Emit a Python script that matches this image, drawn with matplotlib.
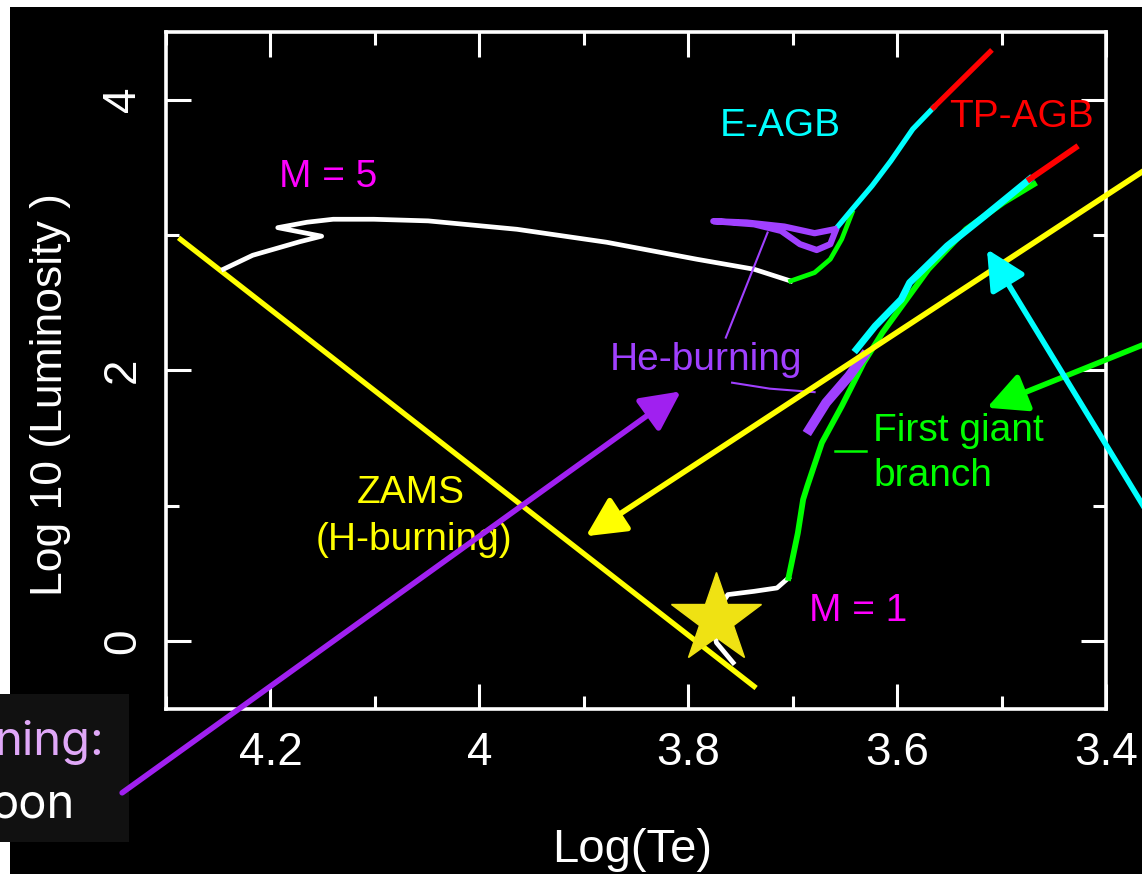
import matplotlib
matplotlib.use("Agg")
import matplotlib.pyplot as plt
from matplotlib.patches import Rectangle
from matplotlib.ticker import MultipleLocator

# -----------------------------
# daten
# -----------------------------
zams_x = [4.288, 3.735]
zams_y = [2.980, -0.345]

# M = 5 Spur
m5_ms_x = [4.245, 4.217, 4.172, 4.151, 4.193, 4.165, 4.140, 4.101, 4.049, 3.964, 3.878, 3.792, 3.737, 3.702]
m5_ms_y = [2.748, 2.851, 2.951, 2.992, 3.055, 3.095, 3.117, 3.117, 3.105, 3.043, 2.947, 2.822, 2.748, 2.661]
m5_rgb_x = [3.702, 3.679, 3.664, 3.653, 3.643]
m5_rgb_y = [2.661, 2.723, 2.822, 2.970, 3.167]
m5_heb_x = [3.660, 3.679, 3.708, 3.744, 3.776, 3.737, 3.711, 3.693, 3.677, 3.664, 3.659]
m5_heb_y = [3.043, 3.014, 3.063, 3.093, 3.103, 3.080, 3.031, 2.933, 2.890, 2.933, 3.031]
m5_eagb_x = [3.659, 3.643, 3.624, 3.606, 3.585, 3.565]
m5_eagb_y = [3.043, 3.191, 3.364, 3.548, 3.783, 3.943]
m5_tp_x = [3.565, 3.511]
m5_tp_y = [3.943, 4.354]

# M = 1 Spur
m1_ms_x = [3.757, 3.773, 3.776, 3.770, 3.762, 3.737, 3.715, 3.704]
m1_ms_y = [-0.158, -0.010, 0.100, 0.250, 0.345, 0.369, 0.394, 0.468]
m1_rgb_x = [3.704, 3.699, 3.695, 3.690, 3.686, 3.672, 3.653, 3.632, 3.614, 3.570, 3.534, 3.498, 3.469]
m1_rgb_y = [0.468, 0.653, 0.801, 1.047, 1.146, 1.467, 1.737, 2.058, 2.280, 2.748, 3.043, 3.241, 3.376]
m1_heb_x = [3.684, 3.668, 3.646, 3.632]
m1_heb_y = [1.565, 1.762, 1.959, 2.107]
m1_eagb_x = [3.639, 3.621, 3.596, 3.588, 3.552, 3.516, 3.473]
m1_eagb_y = [2.156, 2.328, 2.526, 2.649, 2.920, 3.142, 3.413]
m1_tp_x = [3.473, 3.429]
m1_tp_y = [3.413, 3.647]

# Sonne
sun_x, sun_y = 3.773, 0.164

# Hinweislinien (He-burning, First giant)
heb_line1_x = [3.724, 3.764]
heb_line1_y = [3.019, 2.243]
heb_line2_x = [3.758, 3.722, 3.679]
heb_line2_y = [1.910, 1.866, 1.840]
fgb_dash_x = [3.659, 3.630]
fgb_dash_y = [1.404, 1.404]

# Pfeile: (Spitze, Ende, Farbe)
arrows = [
    ((3.807, 1.846), (4.342, -1.119), "#A020F0"),
    ((3.898, 0.776), (3.358, 3.505), "#FFFF00"),
    ((3.514, 1.725), (3.358, 2.210), "#00FF00"),
    ((3.514, 2.896), (3.358, 0.920), "#00FFFF"),
]

# Beschriftungen: (text, x, y, farbe, ausrichtung) - y = Grundlinie
labels = [
    ("M = 5", 4.145, 3.354, "#FF00FF", "center"),
    ("M = 1", 3.637, 0.147, "#FF00FF", "center"),
    ("E-AGB", 3.712, 3.733, "#00FFFF", "center"),
    ("TP-AGB", 3.481, 3.795, "#FF0000", "center"),
    ("He-burning", 3.7825, 2.000, "#A040FF", "center"),
    ("First giant", 3.623, 1.478, "#00FF00", "left"),
    ("branch", 3.623, 1.145, "#00FF00", "left"),
    ("ZAMS", 4.066, 1.018, "#FFFF00", "center"),
    ("(H-burning)", 4.063, 0.677, "#FFFF00", "center"),
]

FONT = ["Liberation Sans Narrow", "Liberation Sans", "DejaVu Sans"]
plt.rcParams["font.family"] = FONT

W, H = 1142, 874
fig = plt.figure(figsize=(W / 100, H / 100), dpi=100, facecolor="white")
# schwarzer Hintergrund (weisser Rand oben/links)
fig.patches.append(Rectangle((10 / W, 0), 1, 1 - 7 / H, transform=fig.transFigure,
                             facecolor="black", edgecolor="none", zorder=-10))
# abgeschnittene Folienbox unten links
fig.patches.append(Rectangle((0, 1 - 842 / H), 129 / W, (842 - 694) / H, transform=fig.transFigure,
                             facecolor="#111111", edgecolor="none", zorder=-5))

ax = fig.add_axes([166 / W, 1 - 709 / H, (1106 - 166) / W, (709 - 32) / H])
ax.set_facecolor("black")
ax.set_xlim(4.3, 3.4)
ax.set_ylim(-0.5, 4.5)

for s in ax.spines.values():
    s.set_color("white")
    s.set_linewidth(2.6)

ax.xaxis.set_major_locator(MultipleLocator(0.2))
ax.xaxis.set_minor_locator(MultipleLocator(0.1))
ax.yaxis.set_major_locator(MultipleLocator(2))
ax.yaxis.set_minor_locator(MultipleLocator(1))
ax.tick_params(which="both", direction="in", top=True, right=True, colors="white", width=2.2)
ax.tick_params(which="major", length=18)
ax.tick_params(which="minor", length=9.5)
ax.tick_params(axis="x", labelsize=33, pad=16)
ax.tick_params(axis="y", labelsize=33, pad=15)
ax.set_xticks([4.2, 4.0, 3.8, 3.6, 3.4])
ax.set_xticklabels(["4.2", "4", "3.8", "3.6", "3.4"])
for lab in ax.get_yticklabels():
    lab.set_rotation(90)
    lab.set_va("center")

ax.set_xlabel("Log(Te)", color="white", fontsize=34, va="center")
ax.xaxis.set_label_coords(0.496, -0.208)
ax.set_ylabel("Log 10 (Luminosity )", color="white", fontsize=32, va="center")
ax.yaxis.set_label_coords(-0.123, 0.465)

# ZAMS
ax.plot(zams_x, zams_y, color="#FFFF00", lw=3.8, solid_capstyle="butt", zorder=3)

# M = 5
ax.plot(m5_ms_x, m5_ms_y, color="white", lw=3.4, zorder=4)
ax.plot(m5_rgb_x, m5_rgb_y, color="#00FF00", lw=3.4, zorder=4)
ax.plot(m5_heb_x, m5_heb_y, color="#A040FF", lw=4.5, zorder=5)
ax.plot(m5_eagb_x, m5_eagb_y, color="#00FFFF", lw=3.8, zorder=4)
ax.plot(m5_tp_x, m5_tp_y, color="#FF0000", lw=3.8, zorder=4)

# M = 1
ax.plot(m1_ms_x, m1_ms_y, color="white", lw=3.4, zorder=4)
ax.plot(m1_rgb_x, m1_rgb_y, color="#00FF00", lw=4.2, zorder=4)
ax.plot(m1_eagb_x, m1_eagb_y, color="#00FFFF", lw=5.0, zorder=4)
ax.plot(m1_heb_x, m1_heb_y, color="#A040FF", lw=7, zorder=5)
ax.plot(m1_tp_x, m1_tp_y, color="#FF0000", lw=4.2, zorder=4)

ax.plot(heb_line1_x, heb_line1_y, color="#A040FF", lw=1.5, zorder=5)
ax.plot(heb_line2_x, heb_line2_y, color="#A040FF", lw=1.5, zorder=5)
ax.plot(fgb_dash_x, fgb_dash_y, color="#00FF00", lw=1.8, zorder=5)

# Sonne
ax.plot([sun_x], [sun_y], marker="*", markersize=68, color="#EFE213",
        markeredgecolor="#EFE213", linestyle="none", zorder=7)

for txt, x, y, col, ha in labels:
    ax.text(x, y, txt, color=col, fontsize=28, ha=ha, va="baseline", zorder=6)

# Pfeile
for tip, tail, col in arrows:
    ax.annotate("", xy=tip, xytext=tail, annotation_clip=False, zorder=8,
                arrowprops=dict(arrowstyle="-|>,head_length=0.8,head_width=0.4",
                                mutation_scale=30, lw=4, color=col,
                                shrinkA=0, shrinkB=0))

# Reste der Folienbeschriftung (links abgeschnitten)
fig.text(104 / W, 1 - 755 / H, "ning:", color="#E0A8F8", fontsize=34, ha="right",
         va="baseline", family=["Inter", "DejaVu Sans"])
fig.text(75 / W, 1 - 818 / H, "oon", color="white", fontsize=34, ha="right",
         va="baseline", family=["Inter", "DejaVu Sans"])

fig.savefig("out.png", dpi=100, facecolor=fig.get_facecolor())
